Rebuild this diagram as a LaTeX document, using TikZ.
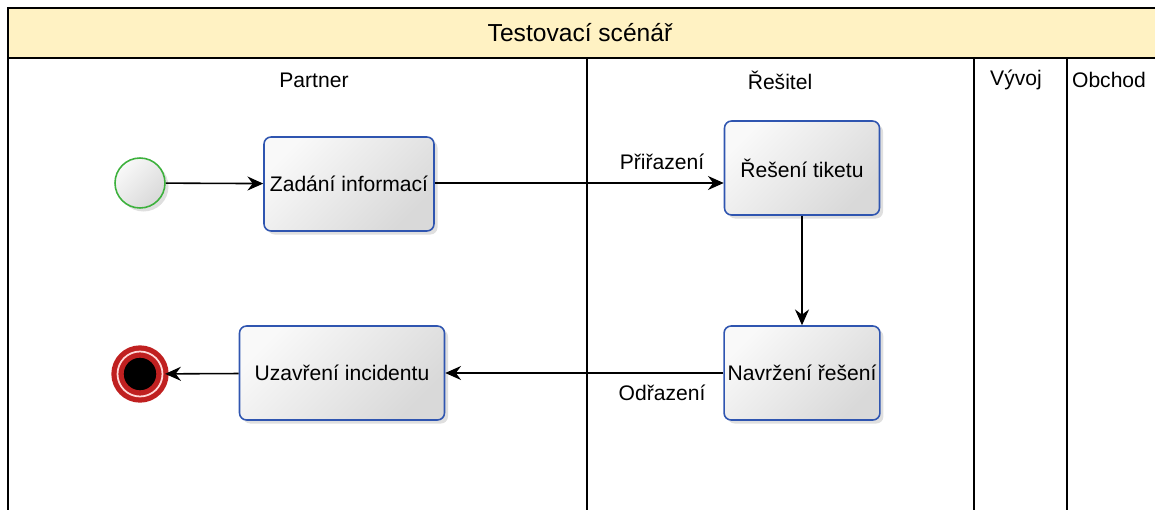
\documentclass[tikz,border=0pt]{standalone}
\usepackage{fontspec}
\setmainfont{Liberation Sans}
\usetikzlibrary{arrows.meta,shadows}

\definecolor{poolhead}{HTML}{FFF2C3}
\definecolor{taskline}{HTML}{2F55B0}
\definecolor{startline}{HTML}{3DB13D}
\definecolor{endline}{HTML}{C02020}

\tikzset{
  task/.style={draw=taskline, line width=0.9pt, rounded corners=4pt,
    minimum width=3.1cm, minimum height=1.88cm, inner sep=2pt,
    top color=white!95!gray, bottom color=gray!30, shading angle=45,
    drop shadow={shadow xshift=2pt, shadow yshift=-2pt, opacity=0.25},
    font=\fontsize{12}{14}\selectfont},
  flow/.style={line width=0.9pt, -{Stealth[length=9pt,width=8pt,inset=3pt]}},
  lanelabel/.style={font=\fontsize{12}{14}\selectfont},
  flowlabel/.style={font=\fontsize{12}{14}\selectfont}
}

\begin{document}
\begin{tikzpicture}[x=0.02cm,y=-0.02cm]
  \useasboundingbox (0,0) rectangle (1155,510);
  % pool
  \fill[poolhead] (8,8) rectangle (1160,58);
  \draw[line width=0.9pt] (1160,8) -- (8,8) -- (8,510);
  \draw[line width=0.9pt] (8,58) -- (1160,58);
  \node[font=\fontsize{14}{16}\selectfont] (title) at (580,33) {Testovací scénář};
  % lanes
  \draw[line width=0.9pt] (587,58) -- (587,510);
  \draw[line width=0.9pt] (974,58) -- (974,510);
  \draw[line width=0.9pt] (1067,58) -- (1067,510);
  \node[lanelabel] (partner) at (314,80) {Partner};
  \node[lanelabel] (resitel) at (780,80) {Řešitel};
  \node[lanelabel] (vyvoj) at (1016,80) {Vývoj};
  \node[lanelabel] (obchod) at (1109,80) {Obchod};
  % events
  \node[circle, draw=startline, line width=0.9pt, minimum size=1cm,
    top color=white!95!gray, bottom color=gray!30, shading angle=45,
    drop shadow={shadow xshift=2pt, shadow yshift=-2pt, opacity=0.25}] (start) at (140,183) {};
  \node[circle, draw=endline, line width=3pt, minimum size=0.9cm, fill=black,
    double=white!85!red, double distance=1pt,
    drop shadow={shadow xshift=2pt, shadow yshift=-2pt, opacity=0.25}] (end) at (140,374) {};
  % tasks
  \node[task, minimum width=3.4cm] (zadani) at (349,184) {Zadání informací};
  \node[task] (reseni) at (802,168) {Řešení tiketu};
  \node[task] (navrzeni) at (802,373) {Navržení řešení};
  \node[task, minimum width=4.1cm] (uzavreni) at (342,373) {Uzavření incidentu};
  % flows
  \draw[flow] (start) -- (zadani);
  \draw[flow] (zadani.east |- 0,183) -- (reseni.west |- 0,183);
  \node[flowlabel] (prirazeni) at (662,162) {Přiřazení};
  \draw[flow] (reseni) -- (navrzeni);
  \draw[flow] (navrzeni) -- (uzavreni);
  \node[flowlabel] (odrazeni) at (662,393) {Odřazení};
  \draw[flow] (uzavreni) -- (end);
\end{tikzpicture}
\end{document}
